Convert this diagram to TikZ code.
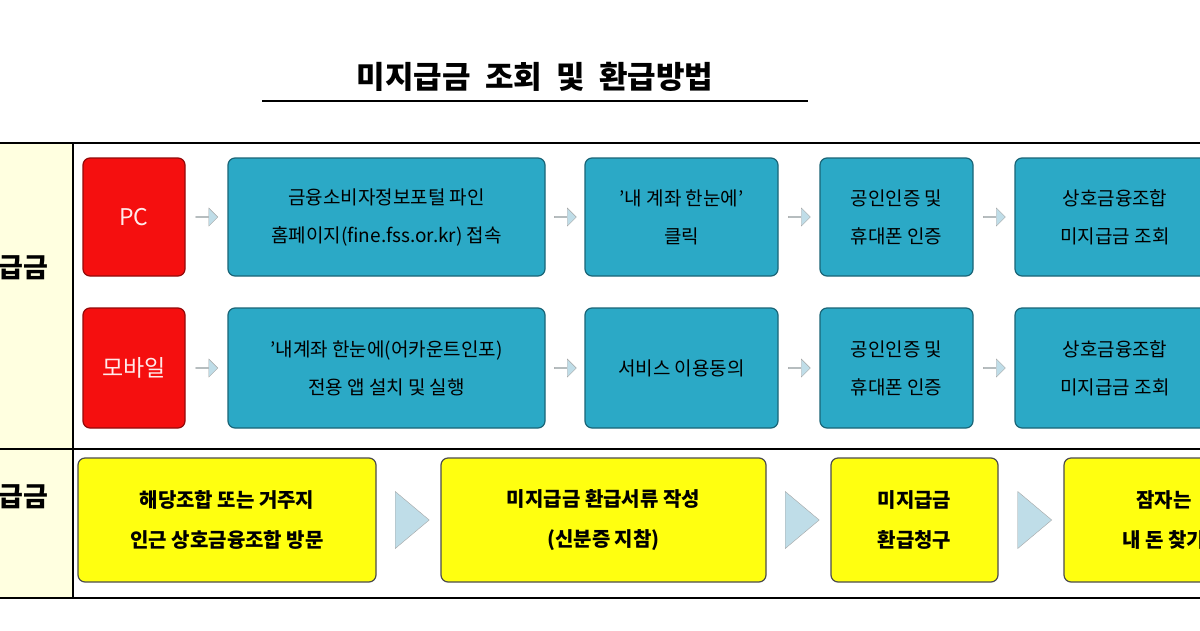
\documentclass[tikz,border=0pt]{standalone}
\usepackage{fontspec}
\setmainfont{Noto Sans CJK KR}
\usetikzlibrary{shapes.arrows,shapes.geometric,calc}
\definecolor{bluebox}{HTML}{2BA9C6}
\definecolor{redbox}{HTML}{F50F0F}
\definecolor{yelbox}{HTML}{FFFF10}
\definecolor{leftbg}{HTML}{FFFFE0}
\definecolor{arrfill}{HTML}{BFDDE8}
\tikzset{
  box/.style={draw=#1!60!black, rounded corners=7pt, line width=1.2pt, align=center, inner sep=0pt},
  bbox/.style={box=bluebox, fill=bluebox, font=\fontsize{19}{38}\selectfont},
  rbox/.style={box=redbox, fill=redbox, text=white!92!red, font=\fontsize{23}{30}\selectfont},
  ybox/.style={box=yelbox, draw=black!70, fill=yelbox, font=\fontsize{20}{40}\selectfont\bfseries},
  sarr/.style={single arrow, draw=gray!70, fill=arrfill, minimum width=18pt, single arrow head extend=3pt, minimum height=22pt, inner sep=0pt},
  barr/.style={isosceles triangle, isosceles triangle apex angle=80, draw=gray!70, fill=arrfill, minimum height=34pt, inner sep=0pt, shape border uses incircle},
}
\begin{document}
\begin{tikzpicture}[x=1pt,y=1pt]
\useasboundingbox (0,0) rectangle (1200,-630);
\clip (0,0) rectangle (1200,-630);
\fill[white] (0,0) rectangle (1200,-630);
\fill[leftbg] (0,-143) rectangle (73,-598);
\draw[line width=1.3pt] (0,-143) -- (1200,-143) (0,-449) -- (1200,-449) (0,-598) -- (1200,-598) (73,-143) -- (73,-598);
\node (title) at (535,-77) {\fontsize{31}{36}\selectfont\bfseries 미지급금\ \ 조회\ \ 및\ \ 환급방법};
\draw[line width=1.5pt] (262,-101) -- (808,-101);
\node[anchor=east, font=\fontsize{27}{30}\selectfont\bfseries] (l1) at (52,-268) {급금};
\node[anchor=east, font=\fontsize{27}{30}\selectfont\bfseries] (l2) at (52,-497) {급금};
% row1
\node[rbox, minimum width=102pt, minimum height=118pt] (pc) at (134,-217) {PC};
\node[bbox, minimum width=317pt, minimum height=118pt] (a1) at (386.5,-217) {금융소비자정보포털 파인\\홈페이지(fine.fss.or.kr) 접속};
\node[bbox, minimum width=193pt, minimum height=118pt] (a2) at (681.5,-217) {'내 계좌 한눈에'\\클릭};
\node[bbox, minimum width=153pt, minimum height=118pt] (a3) at (896.5,-217) {공인인증 및\\휴대폰 인증};
\node[bbox, minimum width=200pt, minimum height=118pt] (a4) at (1115,-217) {상호금융조합\\미지급금 조회};
% row2
\node[rbox, minimum width=102pt, minimum height=120pt] (mo) at (134,-368) {모바일};
\node[bbox, minimum width=317pt, minimum height=120pt] (b1) at (386.5,-368) {'내계좌 한눈에(어카운트인포)\\전용 앱 설치 및 실행};
\node[bbox, minimum width=193pt, minimum height=120pt] (b2) at (681.5,-368) {서비스 이용동의};
\node[bbox, minimum width=153pt, minimum height=120pt] (b3) at (896.5,-368) {공인인증 및\\휴대폰 인증};
\node[bbox, minimum width=200pt, minimum height=120pt] (b4) at (1115,-368) {상호금융조합\\미지급금 조회};
% row3
\node[ybox, minimum width=298pt, minimum height=124pt] (c1) at (227,-520) {해당조합 또는 거주지\\인근 상호금융조합 방문};
\node[ybox, minimum width=325pt, minimum height=124pt] (c2) at (603.5,-520) {미지급금 환급서류 작성\\(신분증 지참)};
\node[ybox, minimum width=167pt, minimum height=124pt] (c3) at (914.5,-520) {미지급금\\환급청구};
\node[ybox, minimum width=200pt, minimum height=124pt] (c4) at (1164,-520) {잠자는\\내 돈 찾기};
% arrows
\foreach \p/\q in {pc/a1,a1/a2,a2/a3,a3/a4,mo/b1,b1/b2,b2/b3,b3/b4}
  \node[sarr] at ($(\p.east)!0.5!(\q.west)$) {};
\foreach \p/\q in {c1/c2,c2/c3,c3/c4}
  \node[barr] at ($(\p.east)!0.5!(\q.west)$) {};
\end{tikzpicture}
\end{document}
